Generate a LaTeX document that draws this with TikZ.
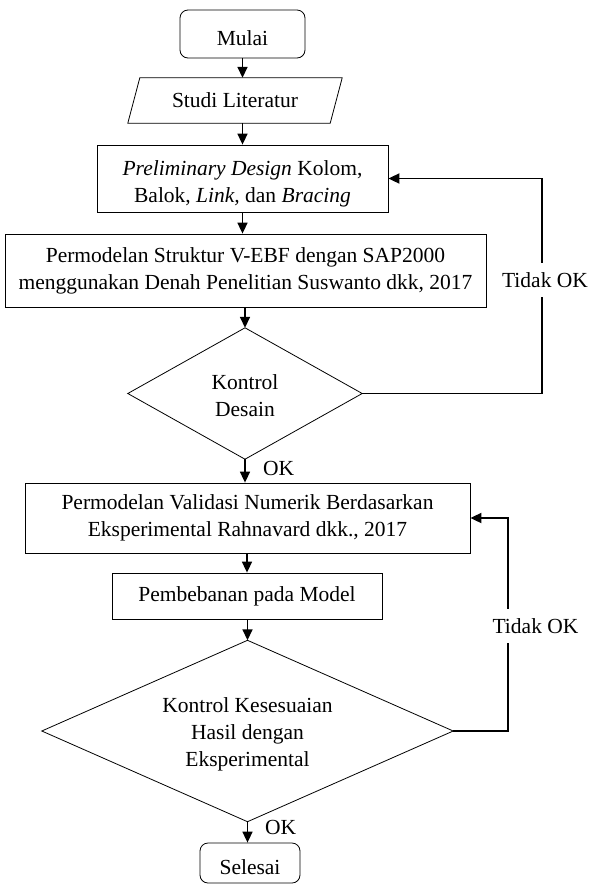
\documentclass[tikz,border=0pt]{standalone}
\usepackage{fontspec}
\setmainfont{Liberation Serif}
\usetikzlibrary{arrows.meta}
\begin{document}
\begin{tikzpicture}[x=1pt,y=-1pt,
  txt/.style={font=\fontsize{21.5}{27}\selectfont, align=center, inner sep=0pt},
  box/.style={txt, draw, line width=0.8pt},
  rbox/.style={box, rounded corners=8pt},
  shapeline/.style={draw, line width=0.8pt},
  arr/.style={line width=1.6pt, -{Triangle[length=11pt,width=10pt]}},
  loopline/.style={line width=1.8pt, -{Triangle[length=11pt,width=10pt]}},
  lbl/.style={txt, fill=white, inner xsep=2pt, inner ysep=9pt}]
\useasboundingbox (0,0) rectangle (590,884);
\clip (0,0) rectangle (590,884);

\node[rbox, minimum width=125pt, minimum height=48pt] (mulai) at (242.5,34) {};
\node[txt] (mulaitext) at (242.5,38) {Mulai};
\node[txt, minimum width=202pt, minimum height=45pt] (studi) at (235,100.5) {Studi Literatur};
\draw[shapeline] ([xshift=6pt]studi.north west) -- ([xshift=6pt]studi.north east)
  -- ([xshift=-6pt]studi.south east) -- ([xshift=-6pt]studi.south west) -- cycle;
\node[box, minimum width=291pt, minimum height=67pt] (prelim) at (242.5,178.5) {};
\node[txt] (prelimtext) at (242.5,184) 
  {\textit{Preliminary Design} Kolom,\\Balok, \textit{Link,} dan \textit{Bracing}};
\node[box, minimum width=481pt, minimum height=73pt] (model) at (245.5,270.5)
  {Permodelan Struktur V-EBF dengan SAP2000\\menggunakan Denah Penelitian Suswanto dkk, 2017};
\node[txt, minimum width=234pt, minimum height=131pt] (d1) at (245,393.5) {};
\node[txt] (d1text) at (245,396) {Kontrol\\Desain};
\draw[shapeline] (d1.north) -- (d1.east) -- (d1.south) -- (d1.west) -- cycle;
\node[box, minimum width=445pt, minimum height=70pt] (valid) at (247.5,518)
  {Permodelan Validasi Numerik Berdasarkan\\Eksperimental Rahnavard dkk., 2017};
\node[box, minimum width=270pt, minimum height=46pt] (beban) at (247,596) {Pembebanan pada Model};
\node[txt, minimum width=411pt, minimum height=181pt] (d2) at (247.5,731) {};
\node[txt] (d2text) at (247.5,734) {Kontrol Kesesuaian\\Hasil dengan\\Eksperimental};
\draw[shapeline] (d2.north) -- (d2.east) -- (d2.south) -- (d2.west) -- cycle;
\node[rbox, minimum width=100pt, minimum height=40pt] (selesai) at (250,863) {};
\node[txt] (selesaitext) at (250,867) {Selesai};

\draw[arr] (mulai.south) -- (mulai.south |- studi.north);
\draw[arr] (prelim.north |- studi.south) -- (prelim.north);
\draw[arr] (prelim.south) -- (prelim.south |- model.north);
\draw[arr] (d1.north |- model.south) -- (d1.north);
\draw[arr] (d1.south) -- (d1.south |- valid.north);
\draw[arr] (beban.north |- valid.south) -- (beban.north);
\draw[arr] (d2.north |- beban.south) -- (d2.north);
\draw[arr] (d2.south) -- (d2.south |- selesai.north);

\node[txt, anchor=west] (ok1) at (263,468) {OK};
\node[txt, anchor=west] (ok2) at (265,827) {OK};

\coordinate (c1) at (542,178.5);
\draw[loopline] (d1.east) -| (c1) -- (prelim.east);
\node[lbl] (t1) at (545,280) {Tidak OK};

\coordinate (c2) at (508,518);
\draw[loopline] (d2.east) -| (c2) -- (valid.east);
\node[lbl] (t2) at (535.5,626) {Tidak OK};
\end{tikzpicture}
\end{document}
